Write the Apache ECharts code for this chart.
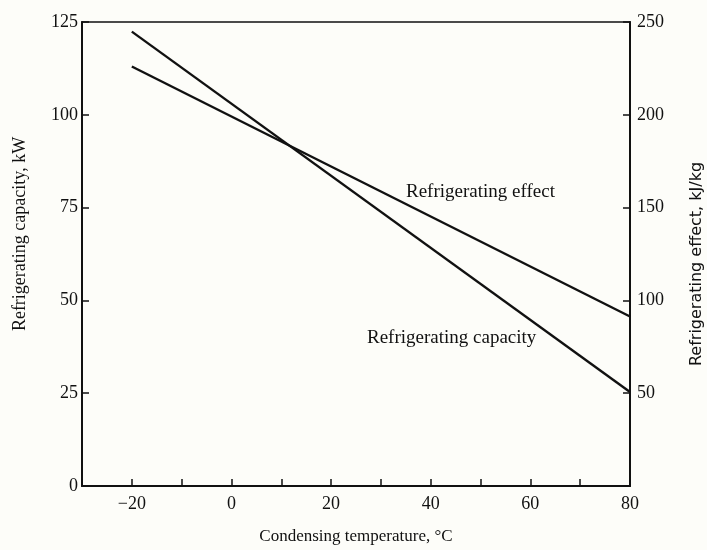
<!DOCTYPE html>
<html>
<head>
<meta charset="utf-8">
<script src="https://cdn.jsdelivr.net/npm/echarts@6/dist/echarts.min.js"></script>
<style>
  html, body { margin: 0; padding: 0; background: #fdfdf9; }
  #main { width: 707px; height: 550px; }
</style>
</head>
<body>
<div id="main"></div>
<script>
// condensing temperature, degC
var temps = [-20, 80];
// refrigerating capacity, kW (left axis)
var capacity = [122.4, 25.3];
// refrigerating effect, kJ/kg (right axis)
var effect = [226, 91.3];
var xLabels = [-20, 0, 20, 40, 60, 80];

var font = 'Liberation Serif';
var ink = '#111';
var chart = echarts.init(document.getElementById('main'));

var option = {
    backgroundColor: '#fdfdf9',
    animation: false,
    grid: {
        left: 82, right: 77, top: 22, bottom: 59,
        show: true, borderColor: ink, borderWidth: 1.5
    },
    xAxis: {
        type: 'value', min: -30, max: 80, interval: 10,
        name: 'Condensing temperature, °C',
        nameLocation: 'middle', nameGap: 42,
        nameTextStyle: { fontFamily: font, fontSize: 17, color: ink },
        axisLine: { show: true, onZero: false, lineStyle: { color: ink, width: 2 } },
        axisTick: { inside: true, length: 7, lineStyle: { color: ink, width: 1.5 } },
        axisLabel: {
            margin: 9, fontFamily: font, fontSize: 18, color: ink,
            formatter: function (v) {
                return xLabels.indexOf(v) >= 0 ? (v < 0 ? '\u2212' + (-v) : String(v)) : '';
            }
        },
        splitLine: { show: false }
    },
    yAxis: [{
        type: 'value', min: 0, max: 125, interval: 25,
        axisLine: { show: true, onZero: false, lineStyle: { color: ink, width: 2 } },
        axisTick: { inside: true, length: 7, lineStyle: { color: ink, width: 1.5 } },
        axisLabel: { margin: 4, fontFamily: font, fontSize: 18, color: ink },
        splitLine: { show: false }
    }, {
        type: 'value', min: 0, max: 250, interval: 50,
        position: 'right',
        axisLine: { show: true, onZero: false, lineStyle: { color: ink, width: 2 } },
        axisTick: { inside: true, length: 7, lineStyle: { color: ink, width: 1.5 } },
        axisLabel: {
            margin: 7, fontFamily: font, fontSize: 18, color: ink,
            formatter: function (v) { return v === 0 ? '' : String(v); }
        },
        splitLine: { show: false }
    }],
    graphic: [{
        type: 'text', x: 20, y: 234, rotation: Math.PI / 2,
        style: {
            text: 'Refrigerating capacity, kW', fontFamily: font, fontSize: 18,
            fill: ink, textAlign: 'center', textVerticalAlign: 'middle'
        }
    }, {
        type: 'text', x: 697, y: 264, rotation: Math.PI / 2,
        style: {
            text: 'Refrigerating effect, kJ/kg', fontFamily: 'DejaVu Sans', fontSize: 16,
            fill: ink, textAlign: 'center', textVerticalAlign: 'middle'
        }
    }, {
        type: 'text', x: 406, y: 192,
        style: {
            text: 'Refrigerating effect', fontFamily: font, fontSize: 19,
            fill: ink, textVerticalAlign: 'middle'
        }
    }, {
        type: 'text', x: 367, y: 338,
        style: {
            text: 'Refrigerating capacity', fontFamily: font, fontSize: 19,
            fill: ink, textVerticalAlign: 'middle'
        }
    }],
    series: [{
        name: 'Refrigerating capacity', type: 'line', yAxisIndex: 0,
        data: temps.map(function (t, i) { return [t, capacity[i]]; }),
        showSymbol: false, lineStyle: { color: ink, width: 2.4 }
    }, {
        name: 'Refrigerating effect', type: 'line', yAxisIndex: 1,
        data: temps.map(function (t, i) { return [t, effect[i]]; }),
        showSymbol: false, lineStyle: { color: ink, width: 2.4 }
    }]
};

chart.setOption(option);
</script>
</body>
</html>
